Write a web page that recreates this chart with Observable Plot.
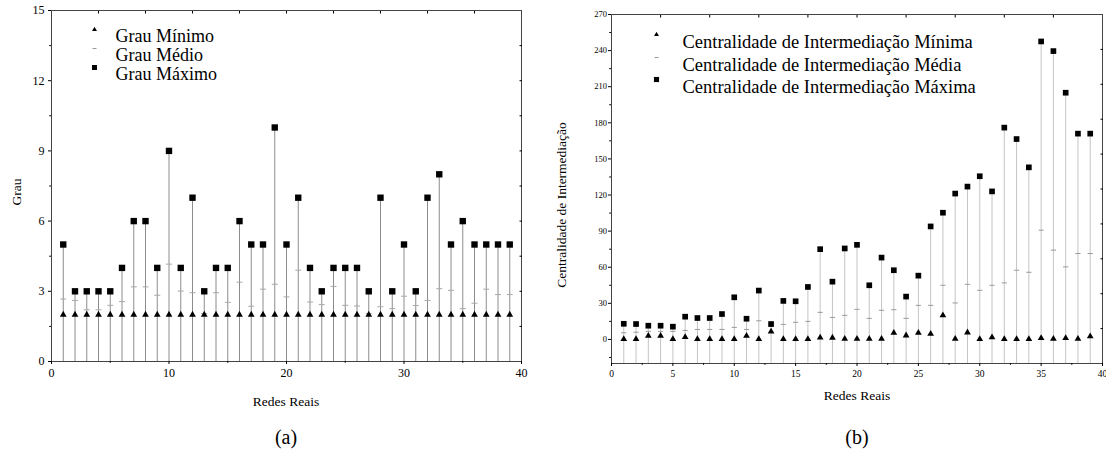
<!DOCTYPE html>
<html><head><meta charset="utf-8">
<script src="https://cdn.jsdelivr.net/npm/d3@7"></script>
<script src="https://cdn.jsdelivr.net/npm/@observablehq/plot@0.6"></script>
<style>
body{margin:0;background:#fff;}
#root{position:relative;width:1106px;height:455px;overflow:hidden;}
.panel{position:absolute;top:0;}
.panel svg{overflow:visible;}
#overlay{position:absolute;left:0;top:0;pointer-events:none;}
</style></head><body><div id="root"></div>
<script>
// ---------- data ----------
const redes = [1,2,3,4,5,6,7,8,9,10,11,12,13,14,15,16,17,18,19,20,21,22,23,24,25,26,27,28,29,30,31,32,33,34,35,36,37,38,39];

const grauMin = [2,2,2,2,2,2,2,2,2,2,2,2,2,2,2,2,2,2,2,2,2,2,2,2,2,2,2,2,2,2,2,2,2,2,2,2,2,2,2];
const grauMedio = [2.67,2.61,2.21,2.21,2.40,2.56,3.19,3.19,2.83,4.16,3.01,2.94,2.05,2.94,2.53,3.39,2.36,3.09,3.30,2.76,3.90,2.54,2.43,3.21,2.40,2.37,2.05,2.34,2.26,2.79,2.39,2.61,3.11,3.04,2.26,2.49,3.09,2.86,2.86];
const grauMax = [5,3,3,3,3,4,6,6,4,9,4,7,3,4,4,6,5,5,10,5,7,4,3,4,4,4,3,7,3,5,3,7,8,5,6,5,5,5,5];

const intMin = [0.3,0.3,3,3,0.3,2,0.3,0.3,0.3,0.3,3,0.3,6.5,0.3,0.3,0.3,1.5,1.4,0.5,0.5,0.5,0.5,5.5,3.3,5.5,4.7,20,0.5,5.8,0.3,1.7,0.3,0.3,0.3,1.1,0.5,1.1,0.5,2.5];
const intMedia = [5.5,6,6.7,6.7,6.7,7.5,8.3,8.3,8.3,10,8.3,15.5,11,12.5,14.2,15,22.5,18.3,20,25,17.5,24.2,24.7,17.5,28.3,28.3,45,30.3,45.8,40.8,45,47,57.5,55.8,90.8,74.2,60.3,71.4,71.4];
const intMax = [13,12.8,11.4,11.4,10.6,18.9,17.8,17.8,21.1,35,17.2,40.6,12.8,32,31.7,43.6,75,48,75.6,78.6,45,68,57.5,35.6,53,93.9,105.3,121.2,127,135.6,123,176,166.5,143,247.6,239.6,205,171,171];

const legendaGrau = ["Grau Mínimo","Grau Médio","Grau Máximo"];
const legendaInt = ["Centralidade de Intermediação Mínima","Centralidade de Intermediação Média","Centralidade de Intermediação Máxima"];

const grauXDomain = [0,40];
const grauYDomain = [0,15];
const grauXTicks = [0,10,20,30,40];
const grauXMinor = [5,15,25,35];
const grauXTop = [4,8,12,16,20,24,28,32,36];
const grauYTicks = [0,3,6,9,12,15];
const grauYMinor = [1.5,4.5,7.5,10.5,13.5];
const grauYRight = [1.5,3,4.5,6,7.5,9,10.5,12,13.5];

const intXDomain = [0,40];
const intYDomain = [-20,270];
const intXTicks = [0,5,10,15,20,25,30,35,40];
const intXMinor = [2.5,7.5,12.5,17.5,22.5,27.5,32.5,37.5];
const intXTop = [4,8,12,16,20,24,28,32,36];
const intYTicks = [0,30,60,90,120,150,180,210,240,270];
const intYMinor = [-15,15,45,75,105,135,165,195,225,255];
const intYRight = [9,38,67,96,125,154,183,212,241];

const eixoX = "Redes Reais";
const eixoYGrau = "Grau";
const eixoYInt = "Centralidade de Intermediação";
const rotulos = ["(a)","(b)"];

// ---------- drawing ----------
const font = '"Liberation Serif","Times New Roman",serif';
const dash = {draw(ctx, size){const r = Math.sqrt(size/Math.PI); ctx.moveTo(-r,0); ctx.lineTo(r,0);}};

function legend(labels, o) {
  const marks = [];
  const syms = ["triangle", dash, "square"];
  labels.forEach((lab, i) => {
    const s = syms[i];
    if (s === dash) {
      marks.push(Plot.dot([lab], {frameAnchor:"top-left", dx:o.sx, dy:o.ys[i], symbol:dash, r:o.rd, stroke:"#999", strokeWidth:1, fill:"none"}));
    } else {
      marks.push(Plot.dot([lab], {frameAnchor:"top-left", dx:o.sx, dy:o.ys[i], symbol:s, r: s==="triangle"? o.rt : o.rs, fill:"black"}));
    }
    marks.push(Plot.text([lab], {frameAnchor:"top-left", dx:o.tx, dy:o.ys[i], text:d=>d, textAnchor:"start", fontSize:o.fs, fontFamily:font, fill:"black"}));
  });
  return marks;
}

const grauData = redes.map((x,i)=>({x, min:grauMin[i], med:grauMedio[i], max:grauMax[i]}));
const intData = redes.map((x,i)=>({x, min:intMin[i], med:intMedia[i], max:intMax[i]}));

const left = Plot.plot({
  width:553, height:415, marginTop:10, marginBottom:54, marginLeft:51, marginRight:32,
  style:{fontFamily:font, background:"transparent", overflow:"visible", color:"black"},
  x:{domain:grauXDomain}, y:{domain:grauYDomain},
  marks:[
    Plot.ruleX(grauData,{x:"x", y1:grauYDomain[0], y2:"max", stroke:"#8c8c8c", strokeWidth:1}),
    Plot.dot(grauData,{x:"x", y:"med", symbol:dash, r:3, stroke:"#a8a8a8", strokeWidth:1, fill:"none"}),
    Plot.dot(grauData,{x:"x", y:"min", symbol:"triangle", r:2.5, fill:"black"}),
    Plot.dot(grauData,{x:"x", y:"max", symbol:"square", r:3.6, fill:"black"}),
    Plot.frame({stroke:"#444"}),
    Plot.axisX({ticks:grauXTicks, tickSize:3, tickPadding:4, label:null, fontSize:12, tickFormat:d=>d}),
    Plot.axisX({ticks:grauXMinor, tickSize:1.8, text:null, label:null}),
    Plot.axisX({anchor:"top", ticks:grauXTop, tickSize:-2.5, text:null, label:null}),
    Plot.axisY({ticks:grauYTicks, tickSize:3, tickPadding:4, label:null, fontSize:12, tickFormat:d=>d}),
    Plot.axisY({ticks:grauYMinor, tickSize:1.8, text:null, label:null}),
    Plot.axisY({anchor:"right", ticks:grauYRight, tickSize:-2.5, text:null, label:null}),
    ...legend(legendaGrau, {sx:43, tx:64, ys:[19,38,57], fs:18, rt:1.8, rs:2.8, rd:2})
  ]
});

const right = Plot.plot({
  width:553, height:415, marginTop:14, marginBottom:52, marginLeft:58, marginRight:4,
  style:{fontFamily:font, background:"transparent", overflow:"visible", color:"black"},
  x:{domain:intXDomain}, y:{domain:intYDomain},
  marks:[
    Plot.ruleX(intData,{x:"x", y1:intYDomain[0], y2:"max", stroke:"#c4c4c4", strokeWidth:1}),
    Plot.dot(intData,{x:"x", y:"med", symbol:dash, r:2.6, stroke:"#9a9a9a", strokeWidth:1, fill:"none"}),
    Plot.dot(intData,{x:"x", y:"min", symbol:"triangle", r:2.5, fill:"black"}),
    Plot.dot(intData,{x:"x", y:"max", symbol:"square", r:3.2, fill:"black"}),
    Plot.frame({stroke:"#444"}),
    Plot.axisX({ticks:intXTicks, tickSize:3, tickPadding:4, label:null, fontSize:9.5, tickFormat:d=>d}),
    Plot.axisX({ticks:intXMinor, tickSize:1.8, text:null, label:null}),
    Plot.axisX({anchor:"top", ticks:intXTop, tickSize:-2.5, text:null, label:null}),
    Plot.axisY({ticks:intYTicks, tickSize:3, tickPadding:1.5, label:null, fontSize:8.5, tickFormat:d=>d}),
    Plot.axisY({ticks:intYMinor, tickSize:1.8, text:null, label:null}),
    Plot.axisY({anchor:"right", ticks:intYRight, tickSize:-2.5, text:null, label:null}),
    ...legend(legendaInt, {sx:45, tx:71, ys:[20,43,65], fs:18.5, rt:1.8, rs:2.9, rd:2})
  ]
});

const root = document.getElementById("root");
const p1 = document.createElement("div"); p1.className = "panel"; p1.style.left = "0px"; p1.appendChild(left); root.appendChild(p1);
const p2 = document.createElement("div"); p2.className = "panel"; p2.style.left = "553px"; p2.appendChild(right); root.appendChild(p2);

// overlay for axis titles and panel captions
const ov = d3.select(root).append("svg").attr("id","overlay").attr("width",1106).attr("height",455)
  .style("font-family", font);
const titles = [
  {t:eixoYGrau, x:16, y:192, rot:true, fs:13.5},
  {t:eixoYInt, x:561, y:205, rot:true, fs:13.5},
  {t:eixoX, x:286, y:401, rot:false, fs:13.5},
  {t:eixoX, x:857, y:395, rot:false, fs:13.5},
  {t:rotulos[0], x:286, y:437, rot:false, fs:20},
  {t:rotulos[1], x:857, y:437, rot:false, fs:20}
];
ov.selectAll("text").data(titles).join("text")
  .attr("transform", d => `translate(${d.x},${d.y})` + (d.rot ? " rotate(-90)" : ""))
  .attr("text-anchor","middle").attr("dominant-baseline","central")
  .attr("font-size", d => d.fs).attr("fill","black")
  .text(d => d.t);
</script>
</body></html>
